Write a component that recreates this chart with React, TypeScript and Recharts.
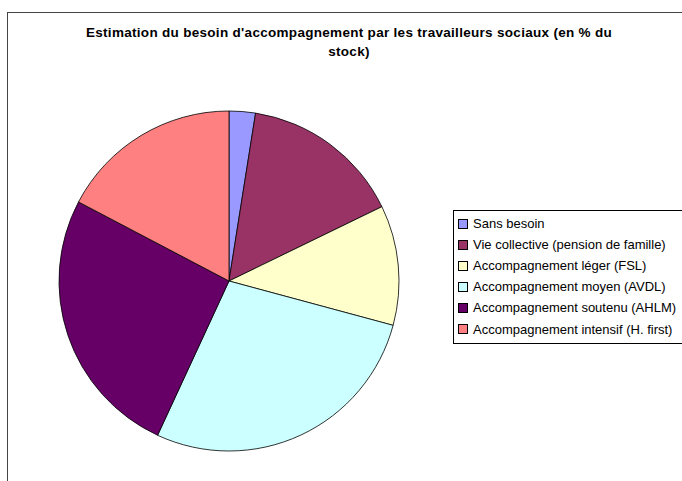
import React from "react";
import { PieChart, Pie, Cell, Legend } from "recharts";

const categories = [
  "Sans besoin",
  "Vie collective (pension de famille)",
  "Accompagnement léger (FSL)",
  "Accompagnement moyen (AVDL)",
  "Accompagnement soutenu (AHLM)",
  "Accompagnement intensif (H. first)",
];
const values = [2.5, 15.3, 11.4, 27.7, 25.8, 17.3];
const colors = ["#9999FF", "#993366", "#FFFFCC", "#CCFFFF", "#660066", "#FF8080"];
const titleLines = [
  "Estimation du besoin d'accompagnement par les travailleurs sociaux (en % du",
  "stock)",
];

const data = categories.map((name, i) => ({ name, value: values[i] }));

const font = "'Liberation Sans', Arial, sans-serif";

const LegendContent = () => (
  <div
    style={{
      border: "1px solid #000",
      background: "#fff",
      padding: "2px 0 3px 4px",
      fontFamily: font,
      fontSize: 13,
      color: "#000",
      boxSizing: "border-box",
      width: 236,
    }}
  >
    {categories.map((c, i) => (
      <div key={c} style={{ display: "flex", alignItems: "center", height: 21.1, whiteSpace: "nowrap" }}>
        <span
          style={{
            display: "inline-block",
            flexShrink: 0,
            width: 8,
            height: 8,
            background: colors[i],
            border: "1px solid #000",
            marginRight: 5,
          }}
        />
        <span style={{ flexShrink: 0 }}>{c}</span>
      </div>
    ))}
  </div>
);

export default function App() {
  return (
    <div style={{ position: "absolute", left: 0, top: 0, width: 682, height: 481, overflow: "hidden", background: "#fff" }}>
      <div
        style={{
          position: "absolute",
          left: 7,
          top: 12,
          width: 700,
          height: 500,
          borderTop: "1px solid #444",
          borderLeft: "1px solid #444",
        }}
      />
      {titleLines.map((t, i) => (
        <div
          key={i}
          style={{
            position: "absolute",
            left: 0,
            width: 698,
            top: 25 + i * 19,
            textAlign: "center",
            fontFamily: font,
            fontWeight: "bold",
            fontSize: 13.5,
            letterSpacing: 0.3,
            color: "#000",
            whiteSpace: "nowrap",
          }}
        >
          {t}
        </div>
      ))}
      <div style={{ position: "absolute", left: 0, top: 0 }}>
        <PieChart width={682} height={481} margin={{ top: 0, right: 0, bottom: 0, left: 0 }}>
          <Pie
            data={data}
            dataKey="value"
            nameKey="name"
            cx={229}
            cy={281}
            outerRadius={170}
            startAngle={90}
            endAngle={-270}
            stroke="#000"
            strokeWidth={0.8}
            isAnimationActive={false}
          >
            {data.map((d, i) => (
              <Cell key={d.name} fill={colors[i]} />
            ))}
          </Pie>
          <Legend
            layout="vertical"
            content={<LegendContent />}
            wrapperStyle={{ position: "absolute", left: 453, top: 210, width: 236 }}
          />
        </PieChart>
      </div>
    </div>
  );
}
